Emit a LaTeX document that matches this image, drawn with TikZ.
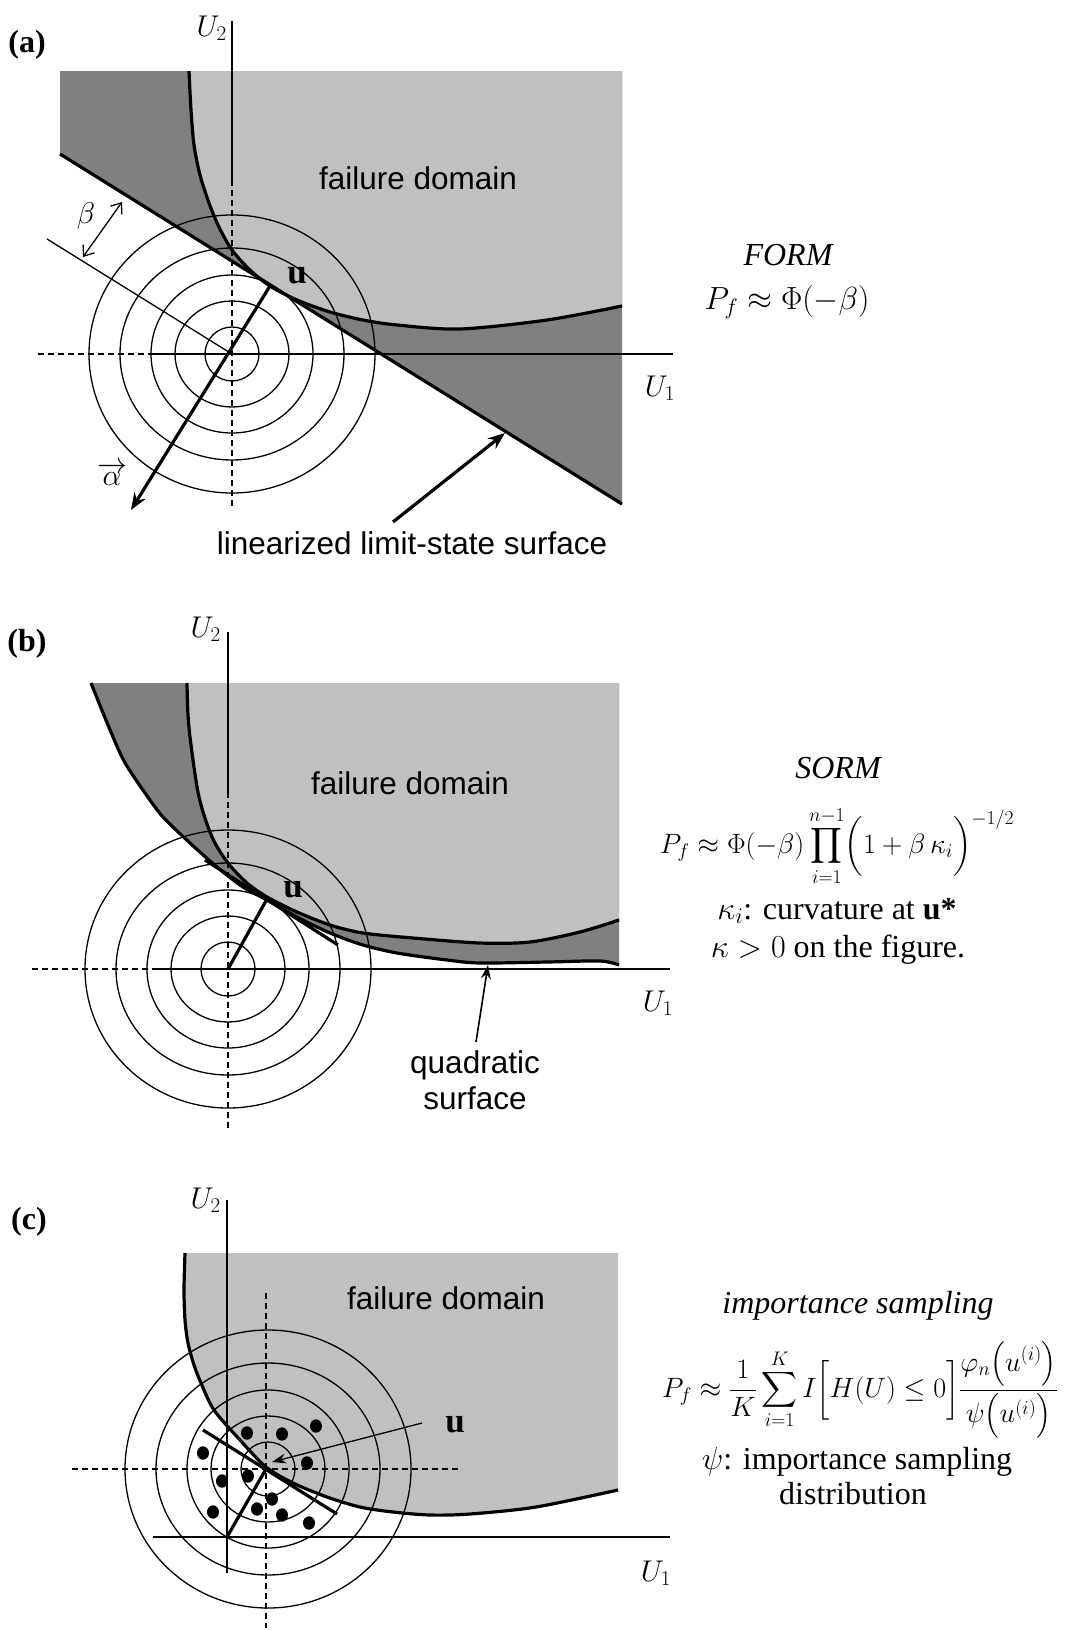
\RequirePackage{fix-cm}
\documentclass[tikz,border=0pt]{standalone}
\usepackage{exscale}
\usepackage{fontspec}
\setmainfont{Liberation Serif}
\newfontfamily\sansf{Liberation Sans}
\usetikzlibrary{arrows.meta}
\definecolor{lightg}{HTML}{C0C0C0}
\definecolor{darkg}{HTML}{808080}
\tikzset{
  thinl/.style={line width=1.3pt},
  thickl/.style={line width=3.2pt},
  dashl/.style={line width=1.3pt, dash pattern=on 6pt off 4pt},
  sanslab/.style={font=\sansf\fontsize{31.5}{36}\selectfont, inner sep=0pt},
  serlab/.style={font=\fontsize{32}{38}\selectfont, inner sep=0pt},
  formlab/.style={font=\fontsize{28}{33}\selectfont, inner sep=0pt},
  panellab/.style={font=\bfseries\fontsize{32}{38}\selectfont, inner sep=0pt},
  ulab/.style={font=\bfseries\fontsize{35}{40}\selectfont, inner sep=0pt},
  axlab/.style={font=\fontsize{30}{36}\selectfont, inner sep=0pt},
  bigtip/.style={-{Stealth[length=17pt,width=13pt]}},
  midtip/.style={-{Stealth[length=14pt,width=10pt]}},
  barbs/.style={{Straight Barb[length=9pt,width=14pt]}-{Straight Barb[length=9pt,width=14pt]}},
  dotm/.style={fill=black},
}
\begin{document}
\begin{tikzpicture}[x=1pt,y=-1pt]
\useasboundingbox (0,0) rectangle (1067,1630);

% ================= panel (a) =================
\coordinate (Oa) at (232,354);
\coordinate (ua) at (270,286);
\coordinate (La1) at (60,154);
\coordinate (La2) at (622,504);
\fill[darkg] (60,71) -- (622,71) -- (La2) -- (La1) -- cycle;
\fill[lightg] plot[smooth] coordinates {(189,71) (191,110) (194,145) (200,175) (209,203) (219,227) (232,250) (250,270) (270,286) (297,300) (330,312) (363,320) (397,325) (460,329) (547,320) (622,306)} -- (622,71) -- cycle;
\foreach \rx/\ry in {27/27,57/53,81/79,112/106,143/139}
  \draw[thinl] (Oa) ellipse [x radius=\rx pt, y radius=\ry pt];
\coordinate (a2t) at (232,21);
\coordinate (a2m) at (232,180);
\coordinate (a2b) at (232,510);
\coordinate (a1l) at (38,354);
\coordinate (a1m) at (151,354);
\coordinate (a1r) at (673,354);
\draw[thinl] (a2t) -- (a2m);
\draw[dashl] (a2m) -- (a2b);
\draw[dashl] (a1l) -- (a1m);
\draw[thinl] (a1m) -- (a1r);
\coordinate (pa) at (47,239);
\draw[thinl] (pa) -- (Oa);
\draw[thickl] (La1) -- (La2);
\draw[thickl] plot[smooth] coordinates {(189,71) (191,110) (194,145) (200,175) (209,203) (219,227) (232,250) (250,270) (270,286) (297,300) (330,312) (363,320) (397,325) (460,329) (547,320) (622,306)};
\coordinate (ba1) at (83,257);
\coordinate (ba2) at (122,202);
\draw[thinl, barbs] (ba1) -- (ba2);
\coordinate (alt) at (131,510);
\draw[thickl, bigtip] (ua) -- (alt);
\coordinate (lat) at (393,522);
\coordinate (lah) at (505,433);
\draw[thickl, bigtip] (lat) -- (lah);

\node[panellab] (la) at (27,45) {(a)};
\node[axlab, anchor=east] (u2a) at (227,28) {$U_2$};
\node[axlab] (u1a) at (660,388) {$U_1$};
\node[sanslab] (fda) at (418,178) {failure domain};
\node[sanslab] (lls) at (412,543) {linearized limit-state surface};
\node[ulab] (ulaba) at (297,276) {u};
\node[axlab] (betal) at (86,216) {$\beta$};
\node[axlab] (alphal) at (112,474) {$\overrightarrow{\alpha}$};
\node[serlab] (form) at (788,255) {\itshape FORM};
\node[serlab] (pfa) at (787,302) {$P_f \approx \Phi(-\beta)$};

% ================= panel (b) =================
\coordinate (Ob) at (228,969);
\coordinate (ub) at (267,899);
\fill[darkg] plot[smooth] coordinates {(91,683) (108,725) (124,761) (145,793) (163,817) (190,843) (217,867) (243,887) (267,900) (297,917) (330,933) (363,945) (397,953) (447,960) (480,963) (547,962) (600,961) (619,965)} -- (619,683) -- cycle;
\fill[lightg] plot[smooth] coordinates {(187,683) (188,715) (191,745) (199,797) (212,837) (228,863) (247,883) (267,897) (297,912) (330,925) (363,933) (413,938) (480,943) (530,942) (580,932) (619,920)} -- (619,683) -- cycle;
\foreach \rx/\ry in {27/27,57/53,81/79,112/106,143/139}
  \draw[thinl] (Ob) ellipse [x radius=\rx pt, y radius=\ry pt];
\coordinate (b2t) at (228,632);
\coordinate (b2m) at (228,792);
\coordinate (b2b) at (228,1131);
\coordinate (b1l) at (32,969);
\coordinate (b1m) at (153,969);
\coordinate (b1r) at (670,969);
\draw[thinl] (b2t) -- (b2m);
\draw[dashl] (b2m) -- (b2b);
\draw[dashl] (b1l) -- (b1m);
\draw[thinl] (b1m) -- (b1r);
\draw[thickl] plot[smooth] coordinates {(91,683) (108,725) (124,761) (145,793) (163,817) (190,843) (217,867) (243,887) (267,900) (297,917) (330,933) (363,945) (397,953) (447,960) (480,963) (547,962) (600,961) (619,965)};
\draw[thickl] plot[smooth] coordinates {(187,683) (188,715) (191,745) (199,797) (212,837) (228,863) (247,883) (267,897) (297,912) (330,925) (363,933) (413,938) (480,943) (530,942) (580,932) (619,920)};
\coordinate (tb1) at (205,860);
\coordinate (tb2) at (338,945);
\draw[thickl] (tb1) -- (tb2);
\draw[thickl] (Ob) -- (ub);
\coordinate (qat) at (476,1042);
\coordinate (qah) at (488,965);
\draw[line width=1.6pt, midtip] (qat) -- (qah);

\node[panellab] (lb) at (27,644) {(b)};
\node[axlab, anchor=east] (u2b) at (221,629) {$U_2$};
\node[axlab] (u1b) at (658,1003) {$U_1$};
\node[sanslab] (fdb) at (410,783) {failure domain};
\node[ulab] (ulabb) at (293,890) {u};
\node[sanslab] (quad) at (475,1065) {quadratic};
\node[sanslab] (surf) at (475,1098) {surface};
\node[serlab] (sorm) at (838,768) {\itshape SORM};
\node[formlab] (pfb) at (837,846) {$\displaystyle P_f \approx \Phi(-\beta)\prod_{i=1}^{n-1}\Bigl(1+\beta\,\kappa_i\Bigr)^{-1/2}$};
\node[serlab] (kap) at (837,911) {$\kappa_i$: curvature at \textbf{u*}};
\node[serlab] (kpos) at (838,950) {$\kappa>0$ on the figure.};

% ================= panel (c) =================
\coordinate (Oc) at (268,1469);
\coordinate (uc) at (266,1469);
\fill[lightg] plot[smooth] coordinates {(185,1253) (184,1290) (185,1320) (188,1343) (194,1365) (201,1383) (214,1410) (240,1440) (266,1467) (293,1483) (327,1497) (360,1507) (393,1512) (430,1515) (470,1514) (536,1507) (618,1490)} -- (618,1253) -- cycle;
\foreach \rx/\ry in {27/27,57/53,81/79,112/106,143/139}
  \draw[thinl] (Oc) ellipse [x radius=\rx pt, y radius=\ry pt];
\coordinate (cdl) at (72,1469);
\coordinate (cdr) at (458,1469);
\coordinate (cdt) at (266,1293);
\coordinate (cdb) at (266,1628);
\draw[dashl] (cdl) -- (cdr);
\draw[dashl] (cdt) -- (cdb);
\coordinate (c2t) at (227,1200);
\coordinate (c2b) at (227,1573);
\coordinate (c1l) at (153,1537);
\coordinate (c1r) at (670,1537);
\coordinate (Ocu) at (227,1537);
\draw[thinl] (c2t) -- (c2b);
\draw[thinl] (c1l) -- (c1r);
\draw[thickl] plot[smooth] coordinates {(185,1253) (184,1290) (185,1320) (188,1343) (194,1365) (201,1383) (214,1410) (240,1440) (266,1467) (293,1483) (327,1497) (360,1507) (393,1512) (430,1515) (470,1514) (536,1507) (618,1490)};
\coordinate (tc1) at (203,1430);
\coordinate (tc2) at (337,1514);
\draw[thickl] (tc1) -- (tc2);
\draw[thickl] (uc) -- (Ocu);
\foreach \px/\py in {247/1433,282/1434,316/1426,203/1453,307/1463,222/1481,248/1476,272/1499,213/1512,257/1509,282/1515,309/1523}
  \fill[dotm] (\px,\py) ellipse [x radius=6pt, y radius=6.7pt];
\coordinate (uct) at (422,1423);
\coordinate (uch) at (272,1462);
\draw[thinl, midtip] (uct) -- (uch);

\node[panellab] (lc) at (29,1222) {(c)};
\node[axlab, anchor=east] (u2c) at (221,1200) {$U_2$};
\node[axlab] (u1c) at (656,1573) {$U_1$};
\node[sanslab] (fdc) at (446,1298) {failure domain};
\node[ulab] (ulabc) at (455,1425) {u};
\node[serlab] (imps) at (858,1306) {\itshape importance sampling};
\node[formlab] (pfc) at (860,1390) {$\displaystyle P_f \approx \frac{1}{K}\sum_{i=1}^{K} I\Bigl[H(U)\le 0\Bigr]\frac{\varphi_n\bigl(u^{(i)}\bigr)}{\psi\bigl(u^{(i)}\bigr)}$};
\node[serlab] (psil) at (857,1462) {$\psi$: importance sampling};
\node[serlab] (distr) at (853,1494) {distribution};
\end{tikzpicture}
\end{document}
